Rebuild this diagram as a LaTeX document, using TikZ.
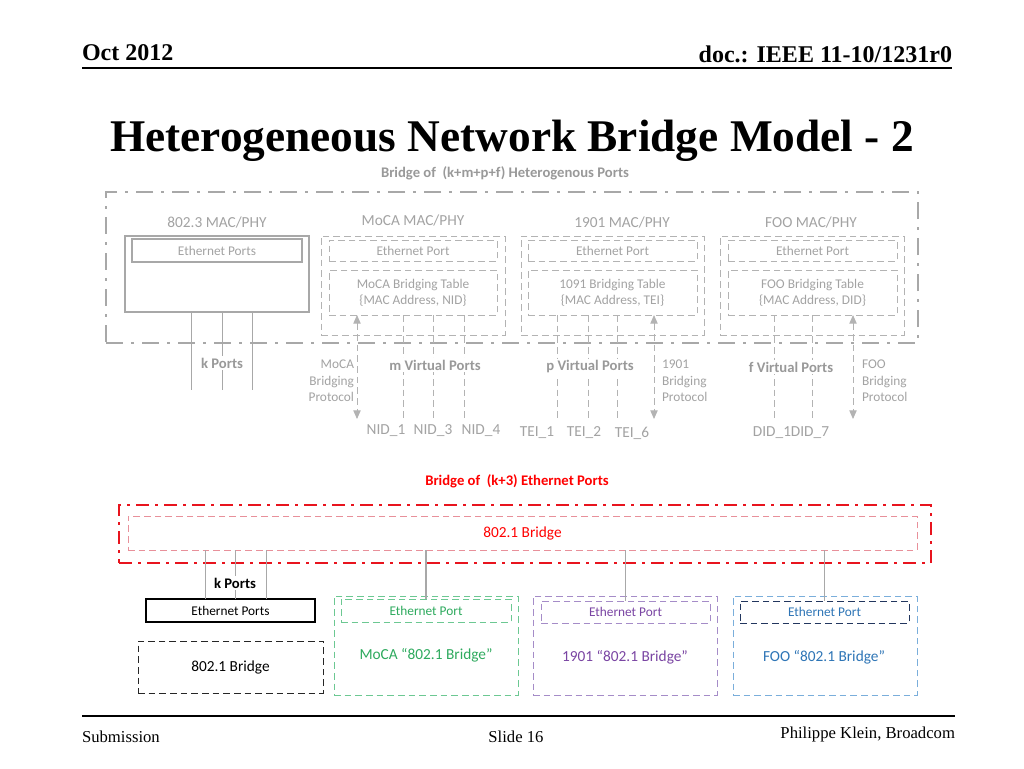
\documentclass[tikz,border=0pt]{standalone}
\usepackage{fontspec}
\setmainfont{Liberation Serif}
\newfontfamily\calfont{Carlito}
\usetikzlibrary{arrows.meta}
\definecolor{gtext}{HTML}{A3A3A3}
\definecolor{gboldc}{HTML}{999999}
\definecolor{gline}{HTML}{A8A8A8}
\definecolor{gdl}{HTML}{B3B3B3}
\definecolor{redt}{HTML}{FF0000}
\definecolor{redl}{HTML}{E8141E}
\definecolor{pinkl}{HTML}{E8909A}
\definecolor{greent}{HTML}{2EAA5E}
\definecolor{greenl}{HTML}{6CC892}
\definecolor{purplet}{HTML}{7A45A3}
\definecolor{purplel}{HTML}{A58CC8}
\definecolor{bluet}{HTML}{2E75B6}
\definecolor{bluel}{HTML}{7AAEDB}
\definecolor{navyl}{HTML}{22365E}
\newcommand\mybox[7]{\node[#6, minimum width={(#4-#2)*0.75pt}, minimum height={(#5-#3)*0.75pt}] (#1) at ({(#2+#4)/2},{(#3+#5)/2}) {#7};}
\tikzset{
  every node/.style={inner sep=0pt, outer sep=0pt},
  gtxt/.style={text=gtext, font=\calfont\fontsize{11.5}{13}\selectfont},
  gsm/.style={text=gtext, font=\calfont\fontsize{10}{12}\selectfont},
  gbold/.style={text=gboldc, font=\calfont\bfseries\fontsize{11}{13}\selectfont},
  glbl/.style={gbold, fill=white, inner xsep=1.5pt, inner ysep=1pt},
  gsolid/.style={draw=gline, line width=0.8pt},
  gdash/.style={draw=gdl, line width=0.7pt, dash pattern=on 5pt off 3pt},
  gdd/.style={draw=gline, line width=1.1pt, dash pattern=on 13pt off 6pt on 2pt off 6pt},
  garrow/.style={draw=gdl, line width=0.7pt, dash pattern=on 5pt off 3pt,
     {Triangle[width=5.5pt,length=6.5pt]}-{Triangle[width=5.5pt,length=6.5pt]}},
  proto/.style={gsm, font=\calfont\fontsize{10}{12.4}\selectfont},
  reddd/.style={draw=redl, line width=1.8pt, dash pattern=on 10pt off 4.5pt on 2pt off 4.5pt},
  cdash/.style={line width=0.75pt, dash pattern=on 5pt off 3pt},
  btxt/.style={font=\calfont\fontsize{11.5}{13}\selectfont},
  bsm/.style={font=\calfont\fontsize{10}{12}\selectfont},
  conn/.style={draw=gline, line width=0.8pt},
}
\begin{document}
\begin{tikzpicture}[x=0.75pt,y=-0.75pt]
\fill[white] (0,0) rectangle (1024,768);
\useasboundingbox (0,0) rectangle (1024,768);

% ---------- header ----------
\node[anchor=base west, font=\bfseries\fontsize{18}{20}\selectfont] (date) at (82,60) {Oct 2012};
\node[anchor=base east, font=\bfseries\fontsize{18}{20}\selectfont] (doc) at (952,62) {doc.: IEEE 11-10/1231r0};
\coordinate (hl) at (82,68); \coordinate (hr) at (952,68);
\draw[line width=1.4pt] (hl) -- (hr);
\node[anchor=base, font=\bfseries\fontsize{34}{40}\selectfont] (title) at (512,151) {Heterogeneous Network Bridge Model - 2};

% ---------- footer ----------
\coordinate (fl) at (82,716); \coordinate (fr) at (955,716);
\draw[line width=1.4pt] (fl) -- (fr);
\node[anchor=base west, font=\fontsize{12.5}{14}\selectfont] (sub) at (82,742) {Submission};
\node[anchor=base, font=\fontsize{12.5}{14}\selectfont] (slide) at (516,742) {Slide 16};
\node[anchor=base east, font=\fontsize{12.5}{14}\selectfont] (auth) at (955,738) {Philippe Klein, Broadcom};

% ---------- top: heterogeneous bridge ----------
\node[gbold] (ttitle) at (505,173) {Bridge of\ \ (k+m+p+f) Heterogenous Ports};
\mybox{outer}{106}{192}{918}{343}{gdd}{}

% 802.3
\mybox{e3}{125}{236}{309}{312}{gsolid}{}
\mybox{e3p}{132}{239}{302}{262}{gsolid,gsm}{Ethernet Ports}
\node[gtxt] (e3l) at (217,222) {802.3 MAC/PHY};
% MoCA
\mybox{mo}{321}{236}{505}{335}{gdash}{}
\mybox{mop}{329}{240}{497}{261}{gdash,gsm}{Ethernet Port}
\mybox{mot}{329}{270}{497}{315}{gdash,gsm,align=center}{MoCA Bridging Table\\\{MAC Address, NID\}}
\node[gtxt] (mol) at (413,220) {MoCA MAC/PHY};
% 1901
\mybox{pl}{521}{236}{704}{335}{gdash}{}
\mybox{plp}{528}{240}{697}{261}{gdash,gsm}{Ethernet Port}
\mybox{plt}{528}{270}{697}{315}{gdash,gsm,align=center}{1091 Bridging Table\\\{MAC Address, TEI\}}
\node[gtxt] (pll) at (622,222) {1901 MAC/PHY};
% FOO
\mybox{fo}{720}{236}{904}{335}{gdash}{}
\mybox{fop}{728}{240}{897}{261}{gdash,gsm}{Ethernet Port}
\mybox{fot}{728}{270}{897}{315}{gdash,gsm,align=center}{FOO Bridging Table\\\{MAC Address, DID\}}
\node[gtxt] (fol) at (811,222) {FOO MAC/PHY};

% k ports
\coordinate (k1) at (191,390); \coordinate (k2) at (222,390); \coordinate (k3) at (252,390);
\foreach \c in {k1,k2,k3} \draw[gsolid, line width=0.6pt] (\c |- e3.south) -- (\c);
\node[glbl] (kl) at (222,363) {k Ports};

% m virtual ports
\coordinate (m1) at (403,420); \coordinate (m2) at (433,420); \coordinate (m3) at (464,420);
\foreach \c in {m1,m2,m3} \draw[gdash] (\c |- mot.south) -- (\c);
\node[glbl] (ml) at (435,365) {m Virtual Ports};
\node[gtxt] (n1) at (386,431) {NID\_1};
\node[gtxt] (n3) at (433,431) {NID\_3};
\node[gtxt] (n4) at (481,431) {NID\_4};
\coordinate (ma) at (357,419);
\draw[garrow] (ma |- mot.south) -- (ma);
\node[proto, anchor=east, align=right] (mp) at (354,381) {MoCA\\Bridging\\Protocol};

% p virtual ports
\coordinate (p1) at (557,420); \coordinate (p2) at (588,420); \coordinate (p3) at (617,420);
\foreach \c in {p1,p2,p3} \draw[gdash] (\c |- plt.south) -- (\c);
\node[glbl] (pvl) at (590,367) {p Virtual Ports};
\node[gtxt] (t1) at (537,433) {TEI\_1};
\node[gtxt] (t2) at (584,433) {TEI\_2};
\node[gtxt] (t6) at (632,433) {TEI\_6};
\coordinate (pa) at (654,419);
\draw[garrow] (pa |- plt.south) -- (pa);
\node[proto, anchor=west, align=left] (pp) at (662,381) {1901\\Bridging\\Protocol};

% f virtual ports
\coordinate (f1) at (774,420); \coordinate (f2) at (812,420);
\foreach \c in {f1,f2} \draw[gdash] (\c |- fot.south) -- (\c);
\node[glbl] (fvl) at (791,367) {f Virtual Ports};
\node[gtxt] (d1) at (772,433) {DID\_1};
\node[gtxt] (d7) at (810,433) {DID\_7};
\coordinate (fa) at (853,419);
\draw[garrow] (fa |- fot.south) -- (fa);
\node[proto, anchor=west, align=left] (fp) at (862,381) {FOO\\Bridging\\Protocol};

% ---------- bottom: 802.1 bridge ----------
\node[text=redt, font=\calfont\bfseries\fontsize{11}{13}\selectfont] (rtitle) at (517,481) {Bridge of\ \ (k+3) Ethernet Ports};
\mybox{rb}{119}{505}{931}{563}{reddd}{}
\mybox{br}{128}{516}{917}{550}{draw=pinkl,cdash,btxt,text=redt}{802.1 Bridge}

\mybox{ep}{146}{599}{315}{622}{draw=black,line width=0.8pt,bsm}{Ethernet Ports}
\mybox{b8}{138}{641}{323}{693}{draw=black!85,cdash,btxt}{802.1 Bridge}

\mybox{gm}{334}{596}{518}{695}{draw=greenl,cdash}{}
\mybox{gmp}{341}{599}{511}{622}{draw=greenl,cdash,bsm,text=greent}{Ethernet Port}
\node[btxt, text=greent] (gml) at (426,655) {MoCA “802.1 Bridge”};

\mybox{pu}{533}{596}{717}{695}{draw=purplel,cdash}{}
\mybox{pup}{541}{601}{710}{623}{draw=purplel,cdash,bsm,text=purplet}{Ethernet Port}
\node[btxt, text=purplet] (pul) at (625,657) {1901 “802.1 Bridge”};

\mybox{bl}{733}{596}{917}{695}{draw=bluel,cdash}{}
\mybox{blp}{740}{601}{909}{623}{draw=navyl,cdash,bsm,text=bluet}{Ethernet Port}
\node[btxt, text=bluet] (bll) at (824,657) {FOO “802.1 Bridge”};

% connectors
\coordinate (b1) at (205,580); \coordinate (b2) at (235,580); \coordinate (b3) at (266,580);
\foreach \c in {b1,b2,b3} \draw[conn, line width=0.6pt] (\c |- br.south) -- (\c |- ep.north);
\node[font=\calfont\bfseries\fontsize{11}{13}\selectfont, fill=white, inner xsep=1.5pt, inner ysep=1pt] (bk) at (235,583) {k Ports};
\draw[conn] (gmp.north |- br.south) -- (gmp.north);
\draw[conn] (pup.north |- br.south) -- (pup.north);
\draw[conn] (blp.north |- br.south) -- (blp.north);
\end{tikzpicture}
\end{document}
